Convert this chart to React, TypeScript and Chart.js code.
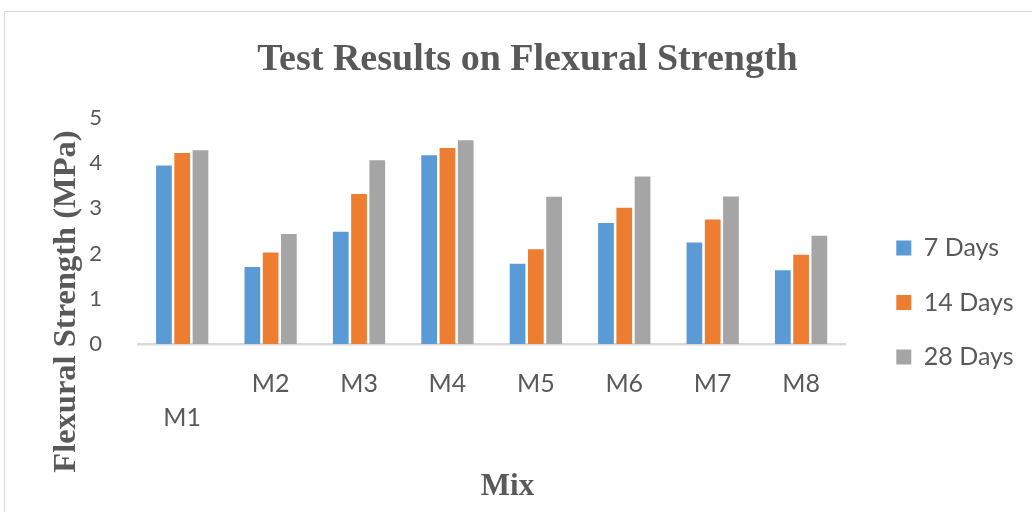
import React, { useEffect, useRef } from 'react';
import { Chart, registerables } from 'chart.js';

Chart.register(...registerables);

const mixes = ['M1', 'M2', 'M3', 'M4', 'M5', 'M6', 'M7', 'M8'];
const seriesNames = ['7 Days', '14 Days', '28 Days'];
const days7 = [3.94, 1.7, 2.48, 4.17, 1.77, 2.67, 2.24, 1.63];
const days14 = [4.22, 2.02, 3.31, 4.33, 2.09, 3.01, 2.75, 1.97];
const days28 = [4.28, 2.43, 4.06, 4.5, 3.25, 3.7, 3.26, 2.39];
const seriesColors = ['#5B9BD5', '#ED7D31', '#A5A5A5'];
const yMin = 0;
const yMax = 5;
const yStep = 1;
const chartTitle = 'Test Results on Flexural Strength';
const yTitle = 'Flexural Strength (MPa)';
const xTitle = 'Mix';

const TEXT = '#595959';
const SERIF = '"Liberation Serif", "Times New Roman", serif';
const SANS = 'Lato, "Open Sans", sans-serif';

const framePlugin = {
  id: 'frame',
  beforeDraw(chart: any) {
    const ctx = chart.ctx;
    ctx.save();
    ctx.fillStyle = '#FFFFFF';
    ctx.fillRect(0, 0, chart.width, chart.height);
    ctx.strokeStyle = '#D9D9D9';
    ctx.lineWidth = 1;
    ctx.strokeRect(4.5, 11.5, chart.width + 20, chart.height + 20);
    ctx.restore();
  },
};

const axisTitlePlugin = {
  id: 'axisTitles',
  afterDraw(chart: any) {
    const ctx = chart.ctx;
    ctx.save();
    ctx.fillStyle = TEXT;
    ctx.textAlign = 'center';
    ctx.textBaseline = 'middle';
    ctx.font = `bold 32.5px ${SERIF}`;
    ctx.save();
    ctx.translate(67, 301.5);
    ctx.rotate(-Math.PI / 2);
    ctx.fillText(yTitle, 0, 0);
    ctx.restore();
    ctx.font = `bold 31px ${SERIF}`;
    ctx.fillText(xTitle, 507.5, 486.5);
    ctx.restore();
  },
};

export default function App() {
  const ref = useRef<HTMLCanvasElement>(null);

  useEffect(() => {
    const labels = mixes.map((m, i) => (i === 0 ? ['', m] : m));
    const values = [days7, days14, days28];
    const chart = new Chart(ref.current as HTMLCanvasElement, {
      type: 'bar',
      data: {
        labels,
        datasets: seriesNames.map((name, i) => ({
          label: name,
          data: values[i],
          backgroundColor: seriesColors[i],
          borderWidth: 0,
          yAxisID: 'y',
          categoryPercentage: 0.62,
          barPercentage: 0.86,
        })),
      },
      options: {
        responsive: false,
        animation: false,
        layout: { padding: { left: 31.5, right: 8.5, top: 0, bottom: 0 } },
        plugins: {
          title: {
            display: true,
            text: chartTitle,
            color: TEXT,
            font: { family: SERIF, size: 38, weight: 'bold' },
            padding: { top: 37, bottom: 35 },
          },
          legend: {
            display: true,
            position: 'right',
            align: 'center',
            title: {
              display: true,
              text: ' ',
              font: { size: 10 },
              padding: { top: 40.5, bottom: 40.5 },
            },
            labels: {
              boxWidth: 15,
              boxHeight: 15,
              padding: 29.5,
              color: TEXT,
              font: { family: SANS, size: 25 },
            },
          },
          tooltip: { enabled: false },
        },
        scales: {
          x: {
            grid: { display: false },
            border: { display: true, color: '#D9D9D9', width: 2.5 },
            ticks: {
              color: TEXT,
              padding: 15.5,
              maxRotation: 0,
              autoSkip: false,
              font: { family: SANS, size: 25, lineHeight: '33.5px' },
            },
            afterFit(scale: any) {
              scale.height = 168;
            },
          },
          y: {
            min: yMin,
            max: yMax,
            grid: { display: false },
            border: { display: false },
            ticks: {
              stepSize: yStep,
              color: TEXT,
              padding: 28,
              font: { family: SANS, size: 22 },
            },
            afterFit(scale: any) {
              scale.width = 106.5;
            },
          },
          y2: {
            position: 'right',
            display: true,
            grid: { display: false },
            border: { display: false },
            ticks: { display: false },
            afterFit(scale: any) {
              scale.width = 21.5;
            },
          },
        },
      },
      plugins: [framePlugin, axisTitlePlugin],
    } as any);
    return () => chart.destroy();
  }, []);

  return (
    <div style={{ position: 'fixed', left: 0, top: 0, width: 1032, height: 512, background: '#fff' }}>
      <canvas ref={ref} width={1032} height={512} style={{ display: 'block' }} />
    </div>
  );
}
